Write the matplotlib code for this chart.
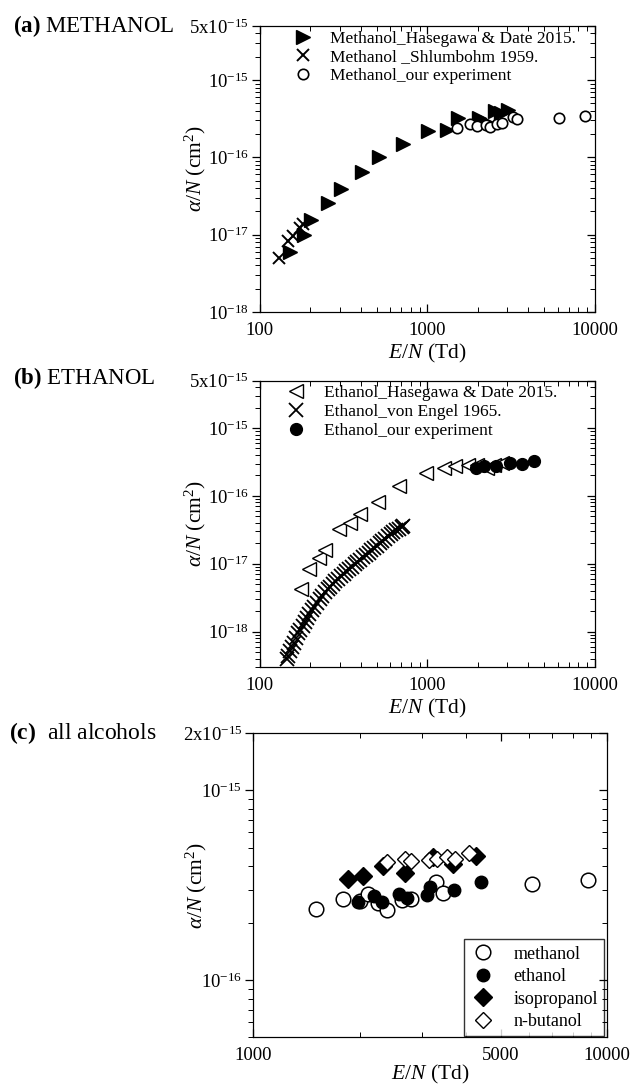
import matplotlib
matplotlib.use("Agg")
import matplotlib.pyplot as plt
from matplotlib.ticker import FixedLocator, FixedFormatter, NullFormatter

plt.rcParams['font.family'] = ['Liberation Serif', 'DejaVu Serif']
plt.rcParams['mathtext.fontset'] = 'custom'
plt.rcParams['mathtext.rm'] = 'Liberation Serif'
plt.rcParams['mathtext.it'] = 'Liberation Serif:italic'
plt.rcParams['mathtext.bf'] = 'Liberation Serif:bold'

# (a) methanol
meth_has_x = [152, 184, 201, 256, 307, 408, 513, 718, 1016, 1307, 1527, 2038, 2254, 2529, 2773, 3041]
meth_has_y = [6.0e-18, 9.8e-18, 1.55e-17, 2.6e-17, 3.9e-17, 6.5e-17, 1.0e-16, 1.49e-16, 2.2e-16,
              2.25e-16, 3.2e-16, 3.26e-16, 2.9e-16, 4.0e-16, 3.7e-16, 4.1e-16]
meth_shl_x = [130, 147, 158, 173, 181]
meth_shl_y = [4.94e-18, 8.4e-18, 9.6e-18, 1.23e-17, 1.38e-17]
meth_our_x = [1515, 1811, 1995, 2254, 2383, 2624, 2812, 3252, 3453, 6096, 8790]
meth_our_y = [2.37e-16, 2.7e-16, 2.54e-16, 2.6e-16, 2.5e-16, 2.7e-16, 2.76e-16, 3.3e-16, 3.1e-16,
              3.2e-16, 3.4e-16]

# (b) ethanol
eth_has_x = [177, 196, 226, 245, 298, 345, 396, 505, 677, 981, 1263, 1462, 1757, 1972, 2285, 2500, 2780]
eth_has_y = [4.3e-18, 8.4e-18, 1.23e-17, 1.6e-17, 3.2e-17, 4.0e-17, 5.4e-17, 8.2e-17, 1.4e-16,
             2.2e-16, 2.55e-16, 2.8e-16, 2.9e-16, 2.85e-16, 2.55e-16, 2.9e-16, 3.1e-16]
eth_eng_x = [145, 148, 152, 156, 160, 165, 170, 175, 180, 186, 192, 198, 205, 212, 220, 228, 236,
             245, 254, 263, 273, 283, 294, 305, 317, 329, 342, 355, 369, 383, 398, 413, 429, 446,
             463, 481, 500, 519, 539, 560, 582, 605, 628, 652, 677, 703, 720]
eth_eng_y = [3.94e-19, 4.4e-19, 5.1e-19, 5.9e-19, 6.8e-19, 8.0e-19, 9.5e-19, 1.07e-18, 1.21e-18,
             1.39e-18, 1.59e-18, 1.81e-18, 2.08e-18, 2.33e-18, 2.64e-18, 2.97e-18, 3.33e-18,
             3.78e-18, 4.2e-18, 4.57e-18, 5.0e-18, 5.47e-18, 6.0e-18, 6.56e-18, 7.1e-18, 7.7e-18,
             8.3e-18, 9.0e-18, 9.8e-18, 1.06e-17, 1.15e-17, 1.24e-17, 1.34e-17, 1.46e-17, 1.57e-17,
             1.71e-17, 1.85e-17, 2.0e-17, 2.16e-17, 2.34e-17, 2.52e-17, 2.7e-17, 2.9e-17, 3.1e-17,
             3.3e-17, 3.45e-17, 3.55e-17]
eth_our_x = [1950, 2188, 2560, 3117, 3664, 4363]
eth_our_y = [2.6e-16, 2.8e-16, 2.8e-16, 3.1e-16, 3.0e-16, 3.3e-16]

# (c) all alcohols
c_meth_x = [1503, 1796, 2003, 2105, 2248, 2394, 2626, 2784, 3278, 3446, 6121, 8855]
c_meth_y = [2.36e-16, 2.68e-16, 2.6e-16, 2.83e-16, 2.54e-16, 2.34e-16, 2.66e-16, 2.68e-16,
            3.29e-16, 2.89e-16, 3.2e-16, 3.37e-16]
c_eth_x = [1983, 2193, 2311, 2582, 2714, 3093, 3160, 3690, 4404]
c_eth_y = [2.59e-16, 2.78e-16, 2.59e-16, 2.84e-16, 2.72e-16, 2.8e-16, 3.08e-16, 2.97e-16, 3.29e-16]
c_iso_x = [1857, 2047, 2321, 2685, 3213, 3681, 4276]
c_iso_y = [3.43e-16, 3.53e-16, 3.99e-16, 3.68e-16, 4.47e-16, 4.1e-16, 4.5e-16]
c_but_x = [2394, 2680, 2786, 3138, 3313, 3536, 3718, 4073]
c_but_y = [4.2e-16, 4.35e-16, 4.25e-16, 4.3e-16, 4.35e-16, 4.45e-16, 4.35e-16, 4.69e-16]

ylab = r'$\alpha/N$ (cm$^2$)'
xlab = r'$E/N$ (Td)'


def style(ax, xlim, xmaj, xlabels, xminor, ylim, ymaj, ylabels, yminor, ylab_x, xpad=2):
    ax.set_xscale('log')
    ax.set_yscale('log')
    ax.set_xlim(xlim)
    ax.set_ylim(ylim)
    ax.xaxis.set_major_locator(FixedLocator(xmaj))
    ax.xaxis.set_major_formatter(FixedFormatter(xlabels))
    ax.xaxis.set_minor_locator(FixedLocator(xminor))
    ax.xaxis.set_minor_formatter(NullFormatter())
    ax.yaxis.set_major_locator(FixedLocator(ymaj))
    ax.yaxis.set_major_formatter(FixedFormatter(ylabels))
    ax.yaxis.set_minor_locator(FixedLocator(yminor))
    ax.yaxis.set_minor_formatter(NullFormatter())
    ax.tick_params(axis='x', which='both', direction='in', top=True, labelsize=13.5, pad=7)
    ax.tick_params(axis='y', which='both', direction='out', right=False, labelsize=13.5, pad=2)
    ax.tick_params(which='major', length=6, width=0.9)
    ax.tick_params(which='minor', length=3.5, width=0.7)
    ax.set_xlabel(xlab, fontsize=15.5, labelpad=xpad)
    ax.set_ylabel(ylab, fontsize=15.5)
    ax.yaxis.set_label_coords(ylab_x, 0.5)
    # ticks pointing inward on the right spine
    tw = ax.twinx()
    tw.set_yscale('log')
    tw.set_ylim(ylim)
    tw.yaxis.set_major_locator(FixedLocator(ymaj))
    tw.yaxis.set_minor_locator(FixedLocator(yminor))
    tw.yaxis.set_major_formatter(NullFormatter())
    tw.yaxis.set_minor_formatter(NullFormatter())
    tw.tick_params(axis='y', which='both', direction='in', labelright=False)
    tw.tick_params(which='major', length=6, width=0.9)
    tw.tick_params(which='minor', length=3.5, width=0.7)


def minors(decades, subs):
    return [s * d for d in decades for s in subs]


fig = plt.figure(figsize=(6.32, 10.86), dpi=100)

dec_x = [100, 1000]
subs = [2, 3, 4, 5, 6, 7, 8, 9]
ytick_lab = [r'$10^{-18}$', r'$10^{-17}$', r'$10^{-16}$', r'$10^{-15}$', r'$5\mathrm{x}10^{-15}$']

# ---- (a) ----
ax1 = fig.add_axes([0.411, 0.7127, 0.530, 0.2634])
ax1.plot(meth_has_x, meth_has_y, '>', color='black', ms=9.5, ls='none',
         label='Methanol_Hasegawa & Date 2015.')
ax1.plot(meth_shl_x, meth_shl_y, 'x', color='black', ms=8.5, mew=1.4, ls='none',
         label='Methanol _Shlumbohm 1959.')
ax1.plot(meth_our_x, meth_our_y, 'o', mfc='white', mec='black', mew=1.2, ms=7.5, ls='none',
         label='Methanol_our experiment')
style(ax1, (100, 10000), [100, 1000, 10000], ['100', '1000', '10000'], minors(dec_x, subs),
      (1e-18, 5e-15), [1e-18, 1e-17, 1e-16, 1e-15, 5e-15], ytick_lab,
      minors([1e-18, 1e-17, 1e-16], subs) + [2e-15, 3e-15, 4e-15], -0.155)
ax1.legend(loc='upper left', bbox_to_anchor=(0.045, 1.02), frameon=False, fontsize=12.5,
           handletextpad=0.6, labelspacing=0.15, borderaxespad=0.2)
fig.text(0.02, 0.976, r'$\mathbf{(a)}$ METHANOL', fontsize=16.5, va='center')

# ---- (b) ----
ax2 = fig.add_axes([0.411, 0.3858, 0.530, 0.2637])
ax2.plot(eth_has_x, eth_has_y, '<', mfc='white', mec='black', mew=1.0, ms=10.5, ls='none',
         label='Ethanol_Hasegawa & Date 2015.')
ax2.plot(eth_eng_x, eth_eng_y, 'x', color='black', ms=10, mew=1.3, ls='none',
         label='Ethanol_von Engel 1965.')
ax2.plot(eth_our_x, eth_our_y, 'o', color='black', ms=8.5, ls='none',
         label='Ethanol_our experiment')
style(ax2, (100, 10000), [100, 1000, 10000], ['100', '1000', '10000'], minors(dec_x, subs),
      (3e-19, 5e-15), [1e-18, 1e-17, 1e-16, 1e-15, 5e-15], ytick_lab,
      [3e-19, 4e-19, 5e-19, 6e-19, 7e-19, 8e-19, 9e-19]
      + minors([1e-18, 1e-17, 1e-16], subs) + [2e-15, 3e-15, 4e-15], -0.155)
ax2.legend(loc='upper left', bbox_to_anchor=(0.025, 1.02), frameon=False, fontsize=12.5,
           handletextpad=0.6, labelspacing=0.15, borderaxespad=0.2)
fig.text(0.02, 0.652, r'$\mathbf{(b)}$ ETHANOL', fontsize=16.5, va='center')

# ---- (c) ----
ax3 = fig.add_axes([0.4008, 0.0449, 0.5596, 0.2799])
ax3.plot(c_meth_x, c_meth_y, 'o', mfc='white', mec='black', mew=1.1, ms=10.5, ls='none',
         label='methanol')
ax3.plot(c_eth_x, c_eth_y, 'o', color='black', ms=9, ls='none', label='ethanol')
ax3.plot(c_iso_x, c_iso_y, 'D', color='black', ms=9.5, ls='none', label='isopropanol')
ax3.plot(c_but_x, c_but_y, 'D', mfc='white', mec='black', mew=1.0, ms=8.5, ls='none',
         label='n-butanol')
style(ax3, (1000, 10000), [1000, 5000, 10000], ['1000', '5000', '10000'],
      [2000, 3000, 4000, 6000, 7000, 8000, 9000],
      (5e-17, 2e-15), [1e-16, 1e-15, 2e-15],
      [r'$10^{-16}$', r'$10^{-15}$', r'$2\mathrm{x}10^{-15}$'],
      [5e-17, 6e-17, 7e-17, 8e-17, 9e-17] + minors([1e-16], subs), -0.124, xpad=-1)
leg = ax3.legend(loc='lower right', bbox_to_anchor=(0.992, 0.003), frameon=True, fancybox=False,
                 fontsize=13, handlelength=1.4, handletextpad=1.0, labelspacing=0.3,
                 borderaxespad=0.0, borderpad=0.35)
leg.get_frame().set_edgecolor('black')
leg.get_frame().set_linewidth(1.0)
fig.text(0.015, 0.325, r'$\mathbf{(c)}$  all alcohols', fontsize=17, va='center')

fig.savefig('out.png', dpi=100)
